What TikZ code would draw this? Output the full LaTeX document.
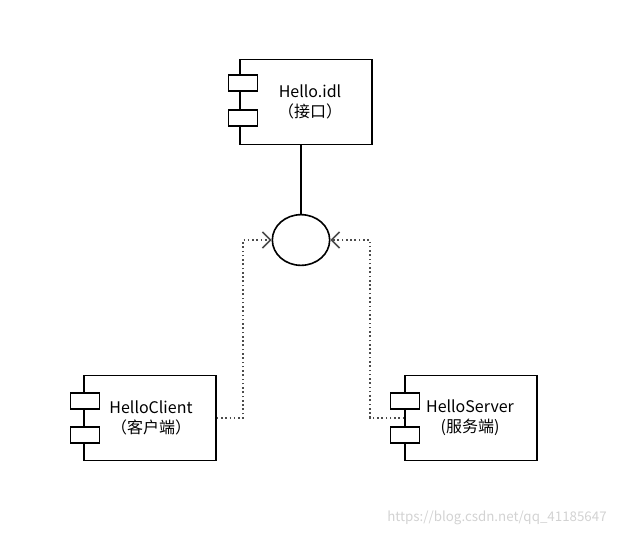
\documentclass[tikz,border=0pt]{standalone}
\usepackage{fontspec}
\setmainfont{Noto Sans CJK SC}
\usetikzlibrary{arrows.meta,shapes.geometric}

\tikzset{
  compbox/.style={draw, line width=1.2pt, fill=white, minimum width=99pt, minimum height=64pt},
  portbox/.style={draw, line width=1.2pt, fill=white, minimum width=22pt, minimum height=12pt},
  depline/.style={line width=1.2pt, dotted, gray!60!black, -{Straight Barb[length=6pt,width=12pt]}}
}

\begin{document}
\begin{tikzpicture}[x=0.75pt, y=-0.75pt, font=\fontsize{12}{15}\selectfont]
\useasboundingbox (0,0) rectangle (628,537);

% Interface component
\node[compbox] (idl) at (306,102) {};
\node[portbox] (idlp1) at (243,83) {};
\node[portbox] (idlp2) at (243,118) {};
\node[align=center] (idltext) at (310,102) {Hello.idl\\（接口）};

% Interface lollipop
\node[draw, line width=1.2pt, ellipse, minimum width=43pt, minimum height=38pt, inner sep=0pt] (iface) at (301,240) {};
\draw[line width=1.2pt] (idl.south -| iface) -- (iface.north);

% Client component
\node[compbox] (client) at (150,418) {};
\node[portbox] (clientp1) at (85,401) {};
\node[portbox] (clientp2) at (85,435) {};
\node[align=center] (clienttext) at (151,418) {HelloClient\\（客户端）};

% Server component
\node[compbox] (server) at (471,418) {};
\node[portbox] (serverp1) at (405,401) {};
\node[portbox] (serverp2) at (405,435) {};
\node[align=center] (servertext) at (470,418) {HelloServer\\(服务端)};

% Dependencies
\coordinate (cbend) at (243,418);
\coordinate (sbend) at (370,418);
\draw[depline] (client.east) -- (cbend) |- (iface.west);
\draw[depline] (server.west) -- (sbend) |- (iface.east);

% Watermark
\node[text=gray!35, font=\fontsize{10}{12}\selectfont] (mark) at (497,518) {https://blog.csdn.net/qq\_41185647};
\end{tikzpicture}
\end{document}
